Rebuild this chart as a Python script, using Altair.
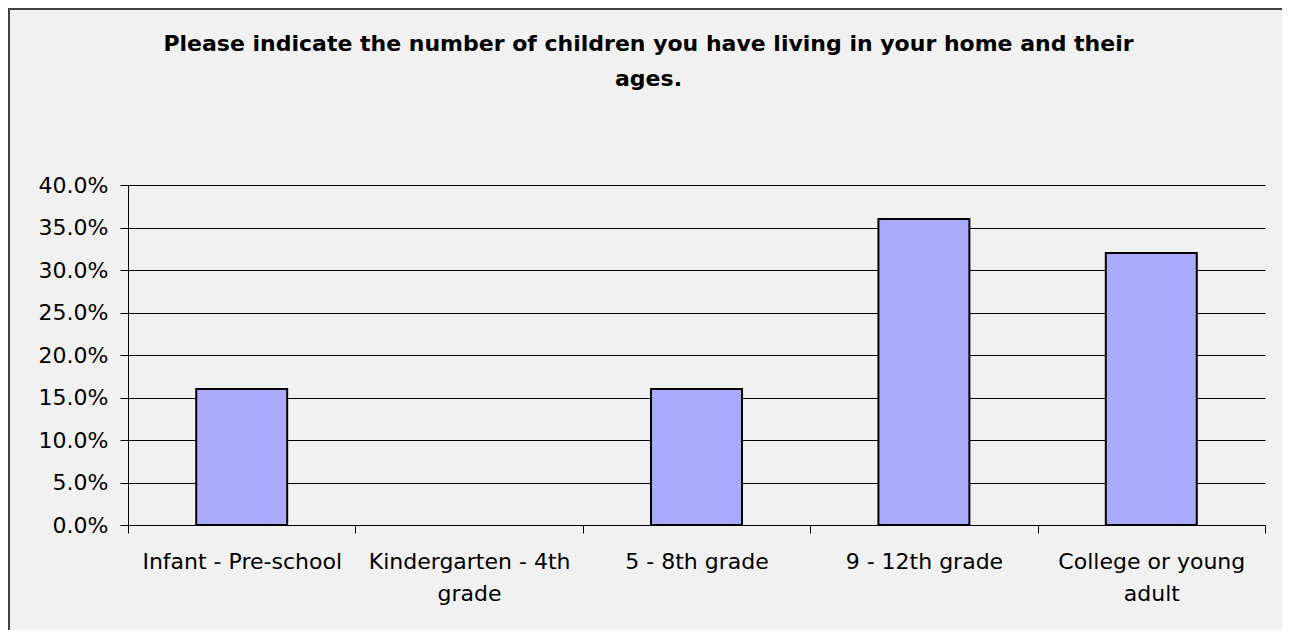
import altair as alt
import pandas as pd

categories = ["Infant - Pre-school", "Kindergarten - 4th\ngrade", "5 - 8th grade",
              "9 - 12th grade", "College or young\nadult"]
values = [0.16, 0.0, 0.16, 0.36, 0.32]
y_ticks = [0.0, 0.05, 0.10, 0.15, 0.20, 0.25, 0.30, 0.35, 0.40]
title_lines = ["Please indicate the number of children you have living in your home and their",
               "ages."]

FONT = "DejaVu Sans"
W, H = 1137, 340

df = pd.DataFrame({"category": categories, "value": values})

bars = alt.Chart(df).mark_bar(
    color="#aaaaff", stroke="black",
    width=alt.RelativeBandSize(0.4)
).encode(
    x=alt.X("category:N", sort=categories, title=None,
            scale=alt.Scale(paddingInner=0, paddingOuter=0),
            axis=alt.Axis(labelExpr="split(datum.label, '\\n')", labelAngle=0,
                          tickBand="extent", tickSize=8, tickColor="black",
                          domainColor="black", labelColor="black",
                          labelFont=FONT, labelFontSize=22, labelLineHeight=32,
                          labelPadding=18, labelBaseline="top", labelLimit=400,
                          grid=False)),
    y=alt.Y("value:Q", title=None,
            scale=alt.Scale(domain=[0, 0.4], nice=False),
            axis=alt.Axis(values=y_ticks, format=".1%", tickSize=8, tickColor="black",
                          domainColor="black", labelColor="black", labelFont=FONT,
                          labelFontSize=22, labelPadding=12, grid=True,
                          gridColor="black", gridOpacity=1, gridWidth=1)),
    strokeWidth=alt.condition("datum.value > 0", alt.value(2), alt.value(0)),
    fillOpacity=alt.condition("datum.value > 0", alt.value(1), alt.value(0)),
)

border = alt.Chart(pd.DataFrame({"a": [0]})).mark_rect(
    fill=None, stroke="#404040", strokeWidth=2
).encode(x=alt.value(-119), y=alt.value(-176), x2=alt.value(3000), y2=alt.value(3000))

chart = alt.layer(bars, border).properties(
    width=W, height=H,
    padding={"left": 120, "top": 177, "right": 17, "bottom": 105},
    autosize="none",
    background="#f1f1f1",
    title=alt.TitleParams(text=title_lines, font=FONT, fontSize=22, fontWeight="bold",
                          color="black", anchor="middle", dx=-48, offset=-83,
                          lineHeight=35)
).configure_view(stroke=None)

chart.save("out.html", embed_options={"renderer": "svg", "actions": False})
